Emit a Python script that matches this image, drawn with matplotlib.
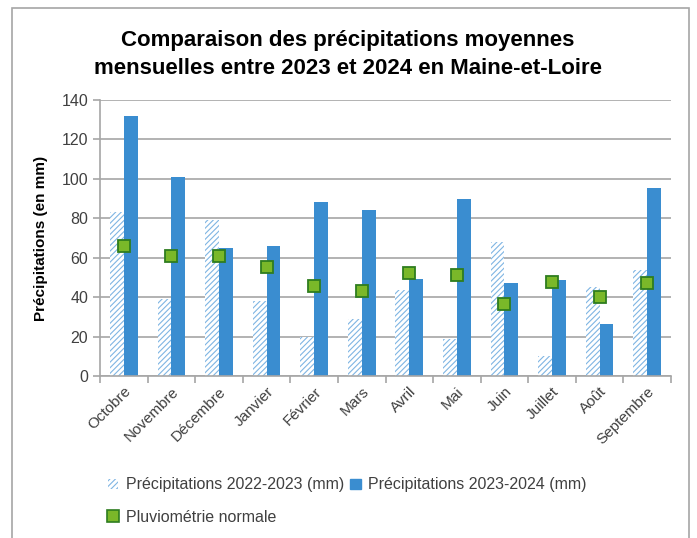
import numpy as np
import matplotlib.pyplot as plt
from matplotlib.patches import Rectangle
from matplotlib.lines import Line2D

mois = ["Octobre", "Novembre", "Décembre", "Janvier", "Février", "Mars",
        "Avril", "Mai", "Juin", "Juillet", "Août", "Septembre"]
precip_2022_2023 = [83, 39, 79, 38, 20, 29, 43.5, 19, 68, 10, 45, 54]
precip_2023_2024 = [132, 101, 65, 66, 88.5, 84, 49, 90, 47, 48.5, 26.5, 95.5]
pluvio_normale = [66, 61, 61, 55.5, 45.5, 43, 52, 51, 36.5, 47.5, 40, 47]

plt.rcParams['font.family'] = ['Liberation Sans', 'DejaVu Sans']
plt.rcParams['hatch.linewidth'] = 0.8

W, H = 697, 538
fig = plt.figure(figsize=(W / 100, H / 100), dpi=100)
ax = fig.add_axes([100 / W, 1 - 376 / H, 571 / W, 276 / H])

# cadre gris autour du graphique
fig.patches.append(Rectangle((12 / W, -0.05), 677 / W, 1.05 - 8 / H,
                             transform=fig.transFigure, fill=False,
                             edgecolor='#a6a6a6', linewidth=1.2))

x = np.arange(len(mois))
w = 0.29
bleu = '#3a8dd0'
hachure = '#7fb5e3'
ax.bar(x - w / 2, precip_2022_2023, w, facecolor='white', edgecolor=hachure,
       linewidth=0, hatch='//////', zorder=2)
ax.bar(x + w / 2, precip_2023_2024, w, color=bleu, zorder=2)
ax.plot(x, pluvio_normale, 's', markersize=9, markerfacecolor='#7ab829',
        markeredgecolor='#2e7d1f', markeredgewidth=1.3, zorder=4)

ax.set_xlim(-0.5, len(mois) - 0.5)
ax.set_ylim(0, 140)
ax.set_yticks(range(0, 141, 20))
ax.grid(axis='y', color='#a6a6a6', linewidth=1.2, zorder=0)
for s in ['top', 'right']:
    ax.spines[s].set_visible(False)
for s in ['left', 'bottom']:
    ax.spines[s].set_color('#a6a6a6')
    ax.spines[s].set_linewidth(1.2)

ax.set_xticks(x)
ax.set_xticklabels(mois, rotation=45, ha='right', rotation_mode='anchor',
                   fontsize=11, color='#404040')
ax.tick_params(axis='x', length=0, pad=6)
ax.set_xticks(np.arange(-0.5, len(mois)), minor=True)
ax.tick_params(axis='x', which='minor', length=5, color='#a6a6a6', width=1.2)
ax.tick_params(axis='y', length=5, color='#a6a6a6', width=1.2,
               labelsize=11.5, labelcolor='#404040')

ax.set_ylabel("Précipitations (en mm)", fontsize=11, fontweight='bold',
              labelpad=10)

fig.text(348 / W, 1 - 54.5 / H,
         "Comparaison des précipitations moyennes\nmensuelles entre 2023 et 2024 en Maine-et-Loire",
         ha='center', va='center', fontsize=16, fontweight='bold',
         linespacing=1.45)

h1 = Rectangle((0, 0), 1, 1, facecolor='white', edgecolor=hachure,
               linewidth=0, hatch='//////')
h2 = Rectangle((0, 0), 1, 1, color=bleu)
h3 = Line2D([], [], marker='s', linestyle='none', markersize=8,
            markerfacecolor='#7ab829', markeredgecolor='#2e7d1f',
            markeredgewidth=1.2)
fig.legend([h1, h2], ["Précipitations 2022-2023 (mm)",
                      "Précipitations 2023-2024 (mm)"],
           loc='center left', bbox_to_anchor=(108 / W, 1 - 485 / H), ncol=2,
           frameon=False, fontsize=11.5, handlelength=0.65, handleheight=0.65,
           handletextpad=0.45, columnspacing=0.4, labelcolor='#404040',
           borderaxespad=0, borderpad=0)
fig.legend([h3], ["Pluviométrie normale"],
           loc='center left', bbox_to_anchor=(108 / W, 1 - 517 / H),
           frameon=False, fontsize=11.5, handlelength=0.65,
           handletextpad=0.45, labelcolor='#404040',
           borderaxespad=0, borderpad=0)

fig.savefig("out.png", dpi=100)
